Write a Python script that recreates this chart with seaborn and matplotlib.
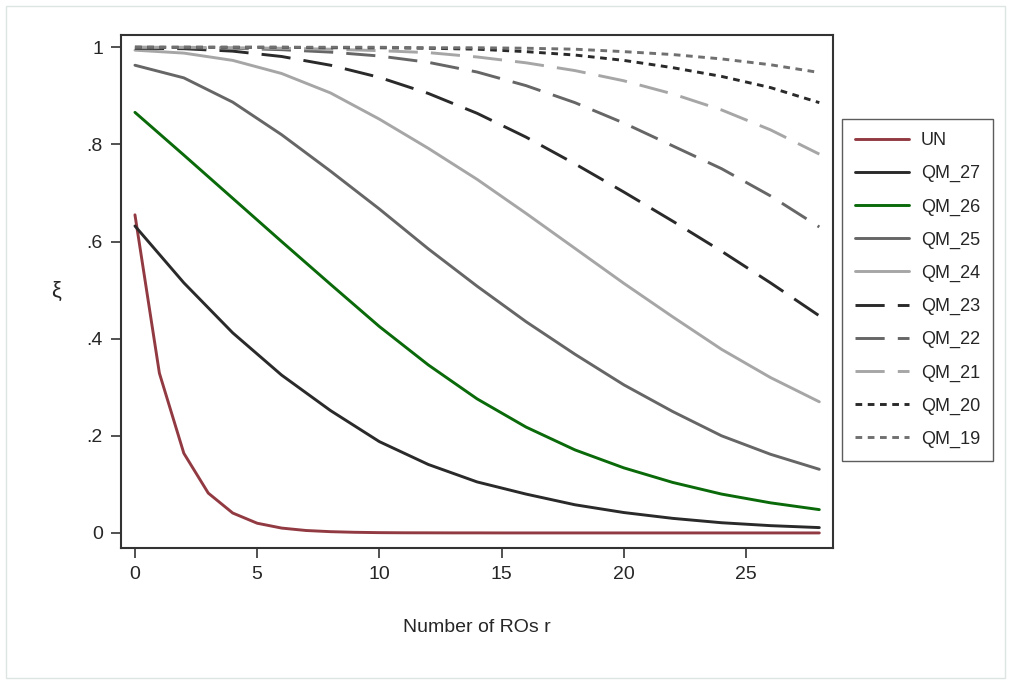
import numpy as np
import pandas as pd
import matplotlib
matplotlib.use("Agg")
import matplotlib.pyplot as plt
import seaborn as sns

# ---------- DATA ----------
r_int = list(range(0, 29))
r_even = list(range(0, 29, 2))

UN = [0.655, 0.329, 0.164, 0.082, 0.041, 0.020, 0.010, 0.005, 0.0026, 0.0013,
      0.0006, 0.0003, 0.0002, 0.0001, 0.0001, 0.0, 0.0, 0.0, 0.0, 0.0,
      0.0, 0.0, 0.0, 0.0, 0.0, 0.0, 0.0, 0.0, 0.0]

QM_27 = [0.632, 0.515, 0.412, 0.325, 0.252, 0.188, 0.141, 0.105, 0.080, 0.058,
         0.042, 0.030, 0.021, 0.015, 0.011]
QM_26 = [0.866, 0.778, 0.689, 0.600, 0.512, 0.425, 0.346, 0.276, 0.218, 0.171,
         0.134, 0.104, 0.080, 0.062, 0.048]
QM_25 = [0.963, 0.937, 0.887, 0.820, 0.745, 0.667, 0.585, 0.508, 0.435, 0.368,
         0.305, 0.250, 0.200, 0.162, 0.131]
QM_24 = [0.994, 0.988, 0.973, 0.946, 0.906, 0.852, 0.792, 0.728, 0.658, 0.586,
         0.514, 0.445, 0.378, 0.320, 0.270]
QM_23 = [0.998, 0.997, 0.992, 0.981, 0.963, 0.938, 0.905, 0.864, 0.815, 0.760,
         0.702, 0.642, 0.580, 0.515, 0.447]
QM_22 = [1.0, 0.999, 0.998, 0.995, 0.990, 0.982, 0.969, 0.949, 0.921, 0.886,
         0.844, 0.797, 0.750, 0.694, 0.630]
QM_21 = [1.0, 1.0, 0.999, 0.998, 0.996, 0.993, 0.989, 0.980, 0.968, 0.952,
         0.931, 0.904, 0.871, 0.830, 0.780]
QM_20 = [1.0, 1.0, 1.0, 1.0, 0.999, 0.999, 0.998, 0.996, 0.991, 0.984,
         0.973, 0.958, 0.940, 0.917, 0.886]
QM_19 = [1.0, 1.0, 1.0, 1.0, 1.0, 1.0, 0.999, 0.999, 0.998, 0.996,
         0.991, 0.985, 0.976, 0.964, 0.948]

series_names = ["UN", "QM_27", "QM_26", "QM_25", "QM_24",
                "QM_23", "QM_22", "QM_21", "QM_20", "QM_19"]
qm_values = [QM_27, QM_26, QM_25, QM_24, QM_23, QM_22, QM_21, QM_20, QM_19]

x_ticks = [0, 5, 10, 15, 20, 25]
y_ticks = [0, 0.2, 0.4, 0.6, 0.8, 1.0]
y_tick_labels = ["0", ".2", ".4", ".6", ".8", "1"]

# ---------- STYLE ----------
sns.set_style("white")
plt.rcParams['font.family'] = ['Liberation Sans', 'DejaVu Sans']

palette = {
    "UN": "#923a42", "QM_27": "#2a2a2a", "QM_26": "#0a6a0a",
    "QM_25": "#666666", "QM_24": "#a6a6a6",
    "QM_23": "#2a2a2a", "QM_22": "#666666", "QM_21": "#a6a6a6",
    "QM_20": "#2a2a2a", "QM_19": "#707070",
}
dashes = {
    "UN": "", "QM_27": "", "QM_26": "", "QM_25": "", "QM_24": "",
    "QM_23": (10, 4.5), "QM_22": (10, 4.5), "QM_21": (10, 4.5),
    "QM_20": (2.3, 1.9), "QM_19": (2.3, 1.9),
}

# ---------- BUILD TABLE ----------
frames = [pd.DataFrame({"r": r_int, "xi": UN, "series": "UN"})]
for name, vals in zip(series_names[1:], qm_values):
    frames.append(pd.DataFrame({"r": r_even, "xi": vals, "series": name}))
df = pd.concat(frames, ignore_index=True)

# ---------- PLOT ----------
fig = plt.figure(figsize=(10.11, 6.82), dpi=100)
ax = fig.add_axes([0.1197, 0.1965, 0.704, 0.752])

sns.lineplot(data=df, x="r", y="xi", hue="series", style="series",
             hue_order=series_names, style_order=series_names,
             palette=palette, dashes=dashes, linewidth=2.1, ax=ax)

ax.set_xlim(-0.57, 28.55)
ax.set_ylim(-0.031, 1.025)
ax.set_xticks(x_ticks)
ax.set_yticks(y_ticks)
ax.set_yticklabels(y_tick_labels)
ax.tick_params(axis="both", which="major", direction="out", length=7,
               width=1.2, color="#333333", labelsize=14, pad=6,
               bottom=True, left=True)
for s in ax.spines.values():
    s.set_color("#333333")
    s.set_linewidth(1.5)

ax.set_xlabel("Number of ROs r", fontsize=14, labelpad=26)
ax.set_ylabel("ξ", fontsize=16, rotation=0, labelpad=22, va="center")

handles, labels = ax.get_legend_handles_labels()
leg = ax.legend(handles, labels, loc="upper left", bbox_to_anchor=(1.0126, 0.836),
                frameon=True, fancybox=False, edgecolor="#333333",
                fontsize=13, handlelength=3.0, handletextpad=0.65,
                labelspacing=0.886, borderpad=0.72, borderaxespad=0)
leg.get_frame().set_linewidth(1.0)

fig.patches.append(plt.Rectangle((0.006, 0.006), 0.988, 0.985,
                                 transform=fig.transFigure, fill=False,
                                 edgecolor="#dde4e4", linewidth=1.0))

fig.savefig("out.png", dpi=100)
